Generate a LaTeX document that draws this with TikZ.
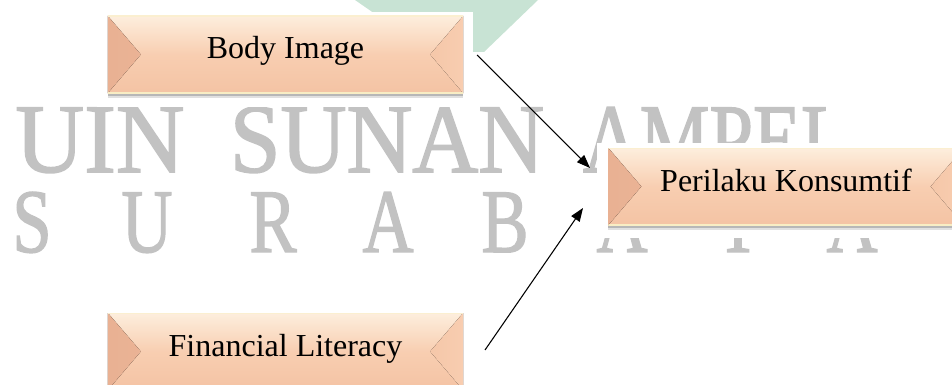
\documentclass[tikz,border=0pt]{standalone}
\usepackage{fontspec}
\setmainfont{Liberation Serif}
\newfontfamily\wmfont[FakeBold=1.6]{Liberation Serif}
\usetikzlibrary{arrows.meta,shadows}
\definecolor{boxtop}{HTML}{FDEEDD}
\definecolor{boxmid}{HTML}{F8CEB1}
\definecolor{boxbot}{HTML}{F4C3A4}
\definecolor{bevLa}{HTML}{E9B193}
\definecolor{bevLb}{HTML}{F2C3A6}
\definecolor{bevRa}{HTML}{F8CDB0}
\definecolor{bevRb}{HTML}{F5C7A9}
\definecolor{edgecream}{HTML}{FBEFD0}
\definecolor{edgeyellow}{HTML}{F8EDC4}
\definecolor{wmgray}{HTML}{C2C2C2}
\definecolor{logogreen}{HTML}{C8E3D4}
\tikzset{
  wmbig/.style={text=wmgray, inner sep=0pt, anchor=base, font=\wmfont\fontsize{73.6}{80}\selectfont},
  wmsmall/.style={text=wmgray, inner sep=0pt, anchor=base, font=\wmfont\fontsize{68}{74}\selectfont},
  bevelbox/.style={
    minimum width=266.5pt, minimum height=57.75pt, inner sep=0pt,
    font=\fontsize{24}{28}\selectfont, text height=0.891em, text depth=0.216em,
    top color=boxtop, bottom color=boxbot, middle color=boxmid,
    drop shadow={shadow xshift=0pt, shadow yshift=-4pt, fill=black, opacity=0.12},
    drop shadow={shadow xshift=0pt, shadow yshift=-2pt, fill=black, opacity=0.18},
    path picture={
      \fill[left color=bevLa, right color=bevLb]
        (path picture bounding box.north west) -- ([xshift=24.75pt]path picture bounding box.west)
        -- (path picture bounding box.south west) -- cycle;
      \fill[left color=bevRb, right color=bevRa]
        (path picture bounding box.north east) -- ([xshift=-24.75pt]path picture bounding box.east)
        -- (path picture bounding box.south east) -- cycle;
      \draw[edgecream, line width=1.4pt]
        (path picture bounding box.north west) -- (path picture bounding box.north east);
      \draw[edgeyellow, line width=2pt]
        (path picture bounding box.south west) -- (path picture bounding box.south east);
    }
  },
  conn/.style={draw=black, line width=0.8pt, -{Triangle[length=10pt,width=7.5pt]}}
}
\begin{document}
\begin{tikzpicture}[x=0.75pt,y=-0.75pt]
\useasboundingbox (0,0) rectangle (952,385);
% logo fragment
\fill[logogreen] (355,0) -- (538,0) -- (484,52) -- (430,52) -- cycle;
% watermark
\node[wmbig] (wmuin) at (100,172) {\scalebox{0.97}[1]{UIN}};
\node[wmbig] (wmsunan) at (387,172) {\scalebox{0.93}[1]{SUNAN}};
\node[wmbig] (wmampel) at (716,172) {\scalebox{0.80}[1]{AMPEL}};
\node[wmsmall] (wms) at (32,252) {\scalebox{0.78}[1]{S}};
\node[wmsmall] (wmu) at (147,252) {\scalebox{0.78}[1]{U}};
\node[wmsmall] (wmr) at (273,252) {\scalebox{0.78}[1]{R}};
\node[wmsmall] (wma) at (388,252) {\scalebox{0.78}[1]{A}};
\node[wmsmall] (wmb) at (505,252) {\scalebox{0.78}[1]{B}};
\node[wmsmall] (wmaa) at (622,252) {\scalebox{0.78}[1]{A}};
\node[wmsmall] (wmy) at (738,252) {\scalebox{0.78}[1]{Y}};
\node[wmsmall] (wmaaa) at (852,252) {\scalebox{0.78}[1]{A}};
% white backings
\fill[white] (97,12) rectangle (473,107);
\fill[white] (597,143) rectangle (952,238);
\fill[white] (97,308) rectangle (473,385);
% boxes
\node[bevelbox] (body) at (285.5,54.5) {Body Image};
\node[bevelbox] (perilaku) at (786,186.5) {Perilaku Konsumtif};
\node[bevelbox] (financial) at (285.5,351.5) {Financial Literacy};
% connectors
\coordinate (bodyout) at (477,55);
\coordinate (perilakuinA) at (590,168);
\coordinate (financialout) at (485,350);
\coordinate (perilakuinB) at (583,208);
\draw[conn] (bodyout) -- (perilakuinA);
\draw[conn] (financialout) -- (perilakuinB);
\end{tikzpicture}
\end{document}
